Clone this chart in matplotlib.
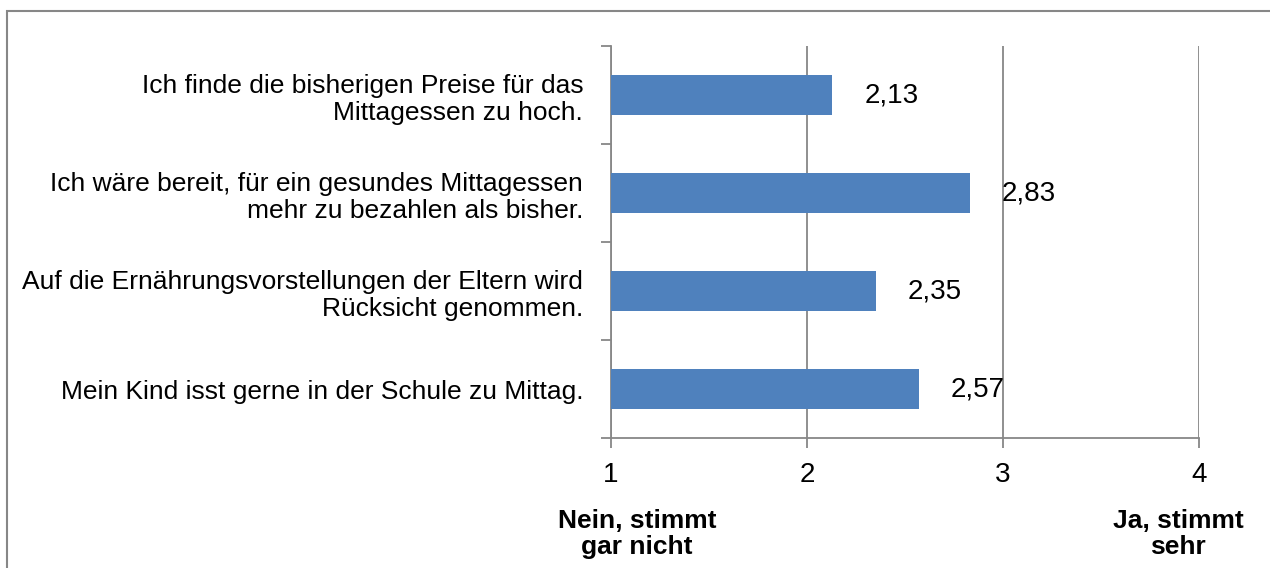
import matplotlib
matplotlib.use("Agg")
import matplotlib.pyplot as plt
from matplotlib.patches import Rectangle

categories = [
    "Mein Kind isst gerne in der Schule zu Mittag.",
    "Auf die Ernährungsvorstellungen der Eltern wird\nRücksicht genommen.",
    "Ich wäre bereit, für ein gesundes Mittagessen\nmehr zu bezahlen als bisher.",
    "Ich finde die bisherigen Preise für das\nMittagessen zu hoch.",
]
values = [2.57, 2.35, 2.83, 2.13]
value_labels = ["2,57", "2,35", "2,83", "2,13"]
x_ticks = [1, 2, 3, 4]
left_label = "Nein, stimmt\ngar nicht"
right_label = "Ja, stimmt\nsehr"

plt.rcParams['font.family'] = ['Liberation Sans', 'DejaVu Sans']
FS = 20

W, H = 1270, 568
fig = plt.figure(figsize=(W / 100, H / 100), dpi=100)
grey = "#878787"

# outer border (open to the right and bottom)
fig.patches.append(Rectangle((7 / W, -0.1), 1.2, 1 - 11 / H + 0.1, transform=fig.transFigure,
                             fill=False, edgecolor=grey, linewidth=1.5, clip_on=False))

ax = fig.add_axes([611 / W, 1 - 438 / H, (1199 - 611) / W, (438 - 46) / H])
n = len(categories)
ypos = list(range(n))
ax.barh(ypos, [v - 1 for v in values], left=1, height=0.4, color="#4f81bd", zorder=3)
ax.set_xlim(1, 4)
ax.set_ylim(-0.5, n - 0.5)

for y, v, lab in zip(ypos, values, value_labels):
    ax.text(v + 0.165, y, lab, va="center", ha="left", fontsize=FS, color="black")

ax.set_xticks(x_ticks)
ax.set_xticklabels([str(t) for t in x_ticks], fontsize=FS)
ax.xaxis.grid(True, color=grey, linewidth=1.3, zorder=0)
ax.set_yticks([i - 0.5 for i in range(n + 1)])
ax.set_yticklabels([])
ax.set_yticks(ypos, minor=True)
ax.set_yticklabels(categories, minor=True, fontsize=19, ha="right", multialignment="right",
                   linespacing=1.17)
ax.tick_params(axis="y", which="minor", length=0, pad=20)
ax.tick_params(axis="y", which="major", length=7, color=grey, width=1.3)
ax.tick_params(axis="x", length=7, color=grey, width=1.3, pad=10)
for s in ["top", "right"]:
    ax.spines[s].set_visible(False)
for s in ["left", "bottom"]:
    ax.spines[s].set_color(grey)
    ax.spines[s].set_linewidth(1.3)

fig.text(637 / W, 1 - 534 / H, left_label, ha="center", va="center", fontsize=19,
         fontweight="bold", linespacing=1.15)
fig.text(1178 / W, 1 - 534 / H, right_label, ha="center", va="center", fontsize=19,
         fontweight="bold", linespacing=1.15)

fig.savefig("out.png", dpi=100)
